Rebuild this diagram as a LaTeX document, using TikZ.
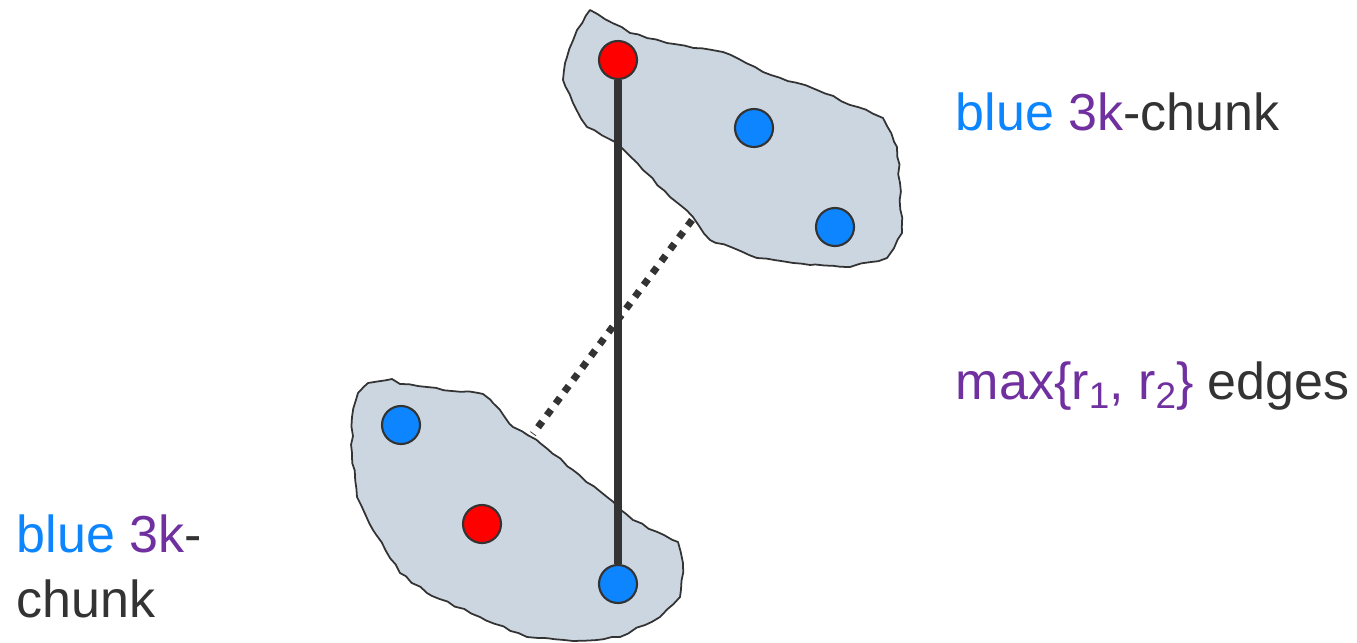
\documentclass[tikz,border=0pt]{standalone}
\usepackage{fontspec}
\setmainfont{Liberation Sans}
\usetikzlibrary{decorations.pathmorphing,positioning}
\definecolor{sky}{RGB}{12,133,255}
\definecolor{plum}{RGB}{112,48,160}
\definecolor{ink}{RGB}{51,51,51}
\definecolor{haze}{RGB}{204,214,224}
\definecolor{cherry}{RGB}{255,0,0}
\newcommand\lowsub[1]{\raisebox{-2.6pt}{\fontsize{10.5}{12}\selectfont #1}}
\tikzset{
  blob/.style={draw=ink,fill=haze,line width=0.5pt,line join=round,decorate,
    decoration={random steps,segment length=2.5pt,amplitude=0.3pt}},
  vertex/.style={circle,draw=ink,fill=#1,line width=0.6pt,minimum size=3.8mm,inner sep=0pt},
  vertex/.default=sky,
  edge/.style={draw=ink,line width=2pt},
  dotted edge/.style={draw=ink,line width=2pt,dash pattern=on 2pt off 2.2pt},
  note/.style={font=\fontsize{14.8}{18}\selectfont,text=ink,inner sep=0pt,anchor=base west},
}
\begin{document}
\begin{tikzpicture}[x=0.01cm,y=-0.01cm]
  \useasboundingbox (0,0) rectangle (1357,642);
  \pgfmathsetseed{7}
  % the two chunks
  \path[blob] (590,10) -- (630,33) -- (667,43) -- (723,52) -- (763,72) -- (817,90)
    -- (883,118) -- (897,147) -- (900,183) -- (902,233) -- (887,258) -- (850,267)
    -- (810,265) -- (757,258) -- (710,240) -- (693,217) -- (670,197) -- (643,170)
    -- (617,143) -- (587,127) -- (573,103) -- (563,80) -- (567,57) -- (577,30) -- cycle;
  \path[blob] (368,383) -- (392,379) -- (400,384) -- (483,394) -- (493,403)
    -- (513,427) -- (540,443) -- (573,470) -- (607,497) -- (633,520) -- (678,542)
    -- (683,563) -- (680,597) -- (660,617) -- (620,637) -- (573,641) -- (527,637)
    -- (480,617) -- (427,593) -- (400,573) -- (373,530) -- (357,497) -- (352,453)
    -- (352,417) -- (358,393) -- cycle;
  \coordinate (topedge) at (692,220);
  \coordinate (botedge) at (533,434);

  % vertices
  \node[vertex=cherry] (t1) at (618,60) {};
  \node[vertex] (t2) at (754,128) {};
  \node[vertex] (t3) at (835,227) {};
  \node[vertex] (b1) at (401,425) {};
  \node[vertex=cherry] (b2) at (482,524) {};
  \node[vertex] (b3) at (618,584) {};

  % edges between the chunks
  \draw[edge] (t1) -- (b3);
  \draw[dotted edge] (topedge) -- (botedge);

  % captions
  \node[note] (toptag) at (955,130) {\textcolor{sky}{blue} \textcolor{plum}{3k}-chunk};
  \node[note] (edgetag) at (955,399)
    {\textcolor{plum}{max\{r\lowsub{1}, r\lowsub{2}\}} edges};
  \node[note] (bottag) at (16,552) {\textcolor{sky}{blue} \textcolor{plum}{3k}-};
  \node[note] (bottag2) at (16,617) {chunk};
\end{tikzpicture}
\end{document}
